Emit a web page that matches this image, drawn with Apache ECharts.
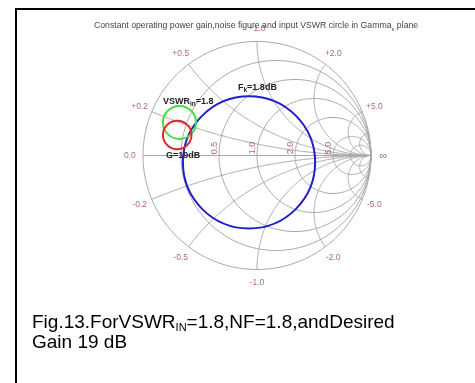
<!DOCTYPE html>
<html>
<head>
<meta charset="utf-8">
<script src="https://cdn.jsdelivr.net/npm/echarts@6/dist/echarts.min.js"></script>
<style>
  html, body { margin: 0; padding: 0; background: #fff; }
  #chart { width: 475px; height: 383px; }
</style>
</head>
<body>
<div id="chart"></div>
<script>
// Smith chart grid values
const resistanceValues = [0.2, 0.5, 1, 2, 5, 10];
const reactanceValues = [0.2, 0.5, 1, 2, 5, 10, -0.2, -0.5, -1, -2, -5, -10];
const resistanceLabels = ['0.5', '1.0', '2.0', '5.0'];
const reactanceLabels = ['+0.2', '+0.5', '+1.0', '+2.0', '+5.0', '-0.2', '-0.5', '-1.0', '-2.0', '-5.0'];

// Circles in the Gamma_s plane: [centre u, centre v, radius]
const noiseCircle = [-0.07, -0.06, 0.58];   // F_k = 1.8 dB
const vswrCircle = [-0.68, 0.29, 0.145];     // VSWR_in = 1.8
const gainCircle = [-0.70, 0.18, 0.125];     // G = 19 dB

const chart = echarts.init(document.getElementById('chart'));

const R = 114, CX = 257, CY = 155.5;

// polyline of a constant-resistance circle
function rCircle(r) {
  const c = r / (1 + r), rad = 1 / (1 + r), pts = [];
  for (let i = 0; i <= 240; i++) {
    const a = i / 240 * 2 * Math.PI;
    pts.push([c + rad * Math.cos(a), rad * Math.sin(a)]);
  }
  return pts;
}
// polyline of a constant-reactance arc inside the unit disc
function xArc(x) {
  const ax = Math.abs(x), sgn = x > 0 ? 1 : -1;
  const rad = 1 / ax;
  let end = Math.atan2((ax * ax - 1) / ax, -2);
  if (end >= -Math.PI / 2) end -= 2 * Math.PI;
  const start = -Math.PI / 2, n = 200, pts = [];
  for (let i = 0; i <= n; i++) {
    const a = start + (end - start) * i / n;
    pts.push([1 + rad * Math.cos(a), sgn * (rad + rad * Math.sin(a))]);
  }
  return pts;
}

const gridLines = [];
gridLines.push(rCircle(0));
resistanceValues.forEach(r => gridLines.push(rCircle(r)));
reactanceValues.forEach(x => gridLines.push(xArc(x)));
gridLines.push([[-1, 0], [1, 0]]);

const gridSeries = {
  type: 'custom',
  silent: true,
  clip: false,
  coordinateSystem: 'cartesian2d',
  data: gridLines.map((_, i) => [0, 0, i]),
  renderItem: function (params, api) {
    const pts = gridLines[params.dataIndex].map(p => api.coord(p));
    return { type: 'polyline', shape: { points: pts }, style: { stroke: '#a8a8a8', lineWidth: 1, fill: null } };
  },
  z: 1
};

function circleSeries(name, c, color, width) {
  return {
    type: 'custom',
    name: name,
    clip: false,
    coordinateSystem: 'cartesian2d',
    data: [c],
    renderItem: function (params, api) {
      const p = api.coord([api.value(0), api.value(1)]);
      const rr = api.size([api.value(2), 0])[0];
      return { type: 'circle', shape: { cx: p[0], cy: p[1], r: rr }, style: { stroke: color, lineWidth: width, fill: null } };
    },
    z: 5
  };
}

// reactance labels placed just outside the rim
const rimLabels = reactanceLabels.map(t => {
  const x = parseFloat(t);
  const th = 2 * Math.atan(1 / x);
  const k = 1.115;
  return { value: [k * Math.cos(th), k * Math.sin(th)], name: t };
});
rimLabels.push({ value: [-1.115, 0], name: '0.0' });
rimLabels.push({ value: [1.11, 0], name: '\u221e', label: { fontSize: 11 } });

const rimSeries = {
  type: 'scatter',
  symbolSize: 0,
  silent: true,
  clip: false,
  data: rimLabels,
  label: {
    show: true, position: 'inside', formatter: p => p.name,
    color: '#a04444', fontSize: 8.5, fontFamily: 'Liberation Sans, Arial'
  },
  z: 6
};

const axisLabelSeries = {
  type: 'scatter',
  symbolSize: 0,
  silent: true,
  clip: false,
  data: resistanceLabels.map(t => {
    const r = parseFloat(t);
    return { value: [(r - 1) / (r + 1), 0.01], name: t };
  }),
  label: {
    show: true, position: 'inside', formatter: p => p.name, rotate: 90,
    align: 'left', verticalAlign: 'bottom',
    color: '#a04444', fontSize: 9, fontFamily: 'Liberation Sans, Arial'
  },
  z: 6
};

const option = {
  animation: false,
  backgroundColor: '#ffffff',
  grid: { left: CX - R, top: CY - R, width: 2 * R, height: 2 * R, containLabel: false },
  xAxis: { type: 'value', min: -1, max: 1, show: false },
  yAxis: { type: 'value', min: -1, max: 1, show: false },
  series: [
    gridSeries,
    circleSeries('noise', noiseCircle, '#2020c8', 2),
    circleSeries('vswr', vswrCircle, '#44dd44', 2),
    circleSeries('gain', gainCircle, '#e02a2a', 2),
    rimSeries,
    axisLabelSeries
  ],
  graphic: [
    { type: 'line', shape: { x1: 15.5, y1: 9, x2: 475, y2: 9 }, style: { stroke: '#000', lineWidth: 2 } },
    { type: 'line', shape: { x1: 16, y1: 8, x2: 16, y2: 383 }, style: { stroke: '#000', lineWidth: 2 } },
    {
      type: 'text', x: 94, y: 20, z: 10,
      style: {
        text: '{a|Constant operating power gain,noise figure and input VSWR circle in Gamma}{s|s}{a| plane}',
        rich: {
          a: { fontSize: 8.7, fill: '#444', fontFamily: 'Liberation Sans, Arial' },
          s: { fontSize: 6, fill: '#444', fontFamily: 'Liberation Sans, Arial', padding: [6, 0, 0, 0] }
        }
      }
    },
    {
      type: 'text', x: 238, y: 82, z: 10,
      style: {
        text: '{b|F}{s|k}{b|=1.8dB}',
        rich: {
          b: { fontSize: 9, fontWeight: 'bold', fill: '#222', fontFamily: 'Liberation Sans, Arial' },
          s: { fontSize: 6.5, fontWeight: 'bold', fill: '#222', fontFamily: 'Liberation Sans, Arial', padding: [5, 0, 0, 0] }
        }
      }
    },
    {
      type: 'text', x: 163, y: 96, z: 10,
      style: {
        text: '{b|VSWR}{s|in}{b|=1.8}',
        rich: {
          b: { fontSize: 9, fontWeight: 'bold', fill: '#222', fontFamily: 'Liberation Sans, Arial' },
          s: { fontSize: 6.5, fontWeight: 'bold', fill: '#222', fontFamily: 'Liberation Sans, Arial', padding: [5, 0, 0, 0] }
        }
      }
    },
    {
      type: 'text', x: 166, y: 151, z: 10,
      style: { text: 'G=19dB', fontSize: 9, fontWeight: 'bold', fill: '#222', fontFamily: 'Liberation Sans, Arial' }
    },
    {
      type: 'text', x: 32, y: 313, z: 10,
      style: {
        text: '{c|Fig.13.ForVSWR}{i|IN}{c|=1.8,NF=1.8,andDesired}\n{c|Gain 19 dB}',
        rich: {
          c: { fontSize: 19, fill: '#000', fontFamily: 'Liberation Sans, Arial', lineHeight: 20 },
          i: { fontSize: 11, fill: '#000', fontFamily: 'Liberation Sans, Arial', padding: [10, 0, 0, 0], lineHeight: 20 }
        }
      }
    }
  ]
};
chart.setOption(option);
</script>
</body>
</html>
